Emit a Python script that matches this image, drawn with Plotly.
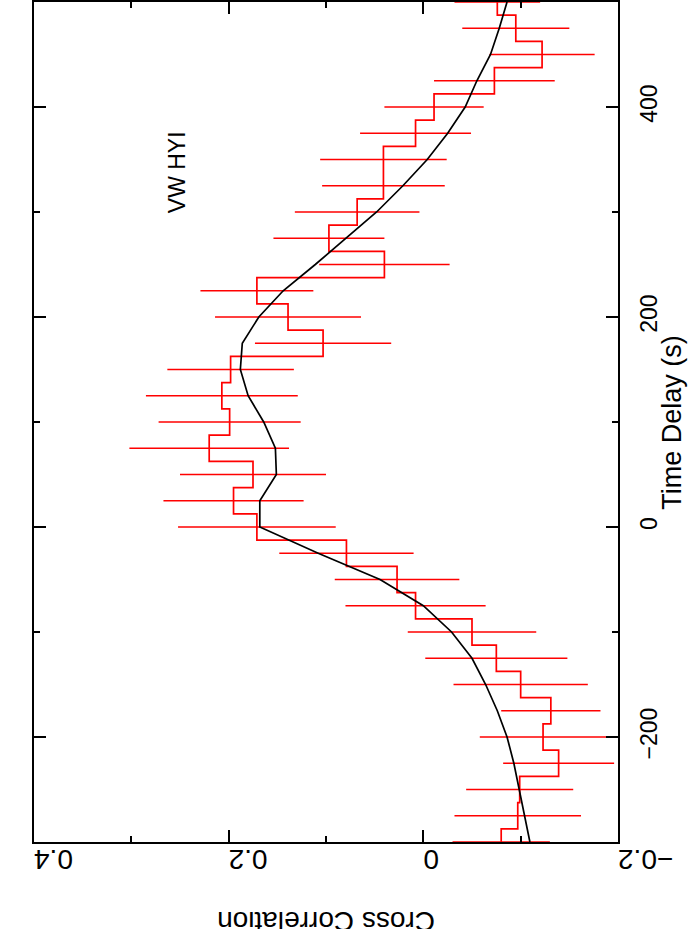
import plotly.graph_objects as go

# Time delay bins (s)
time_delay = [-300, -275, -250, -225, -200, -175, -150, -125, -100, -75, -50, -25,
              0, 25, 50, 75, 100, 125, 150, 175, 200, 225, 250, 275,
              300, 325, 350, 375, 400, 425, 450, 475, 500]

# Measured cross correlation (red histogram) and its errors
cross_corr = [-0.080, -0.097, -0.099, -0.139, -0.123, -0.131, -0.100, -0.075, -0.050, 0.008, 0.027, 0.079,
              0.171, 0.195, 0.175, 0.220, 0.199, 0.207, 0.198, 0.103, 0.139, 0.171, 0.040, 0.097,
              0.068, 0.041, 0.041, 0.008, -0.011, -0.073, -0.122, -0.095, -0.076]
cross_err = [0.050, 0.065, 0.055, 0.057, 0.065, 0.051, 0.069, 0.073, 0.066, 0.072, 0.064, 0.069,
             0.081, 0.072, 0.075, 0.082, 0.073, 0.078, 0.065, 0.070, 0.075, 0.058, 0.067, 0.057,
             0.064, 0.063, 0.065, 0.057, 0.051, 0.062, 0.054, 0.055, 0.044]

# Model curve (black)
model_corr = [-0.1095, -0.104, -0.099, -0.093, -0.086, -0.076, -0.064, -0.050, -0.029, 0.000, 0.0445, 0.108,
              0.168, 0.168, 0.151, 0.152, 0.164, 0.180, 0.188, 0.186, 0.169, 0.144, 0.111, 0.080,
              0.048, 0.021, -0.004, -0.025, -0.043, -0.055, -0.069, -0.078, -0.086]

font_family = "Liberation Sans, Arial, sans-serif"

fig = go.Figure()

# measured CCF as a step histogram with error bars
fig.add_trace(go.Scatter(
    x=cross_corr, y=time_delay, mode='lines',
    line=dict(color='red', width=1.7, shape='vhv'),
    error_x=dict(type='data', array=cross_err, color='red', thickness=1.7, width=0),
    showlegend=False, hoverinfo='skip'
))

# model curve
fig.add_trace(go.Scatter(
    x=model_corr, y=time_delay, mode='lines',
    line=dict(color='black', width=1.7),
    showlegend=False, hoverinfo='skip'
))

fig.update_layout(
    width=689, height=929,
    margin=dict(l=34, r=71, t=2, b=87),
    paper_bgcolor='white', plot_bgcolor='white',
    font=dict(family=font_family, color='black'),
    xaxis=dict(
        range=[0.4, -0.2], dtick=0.2, tick0=0,
        ticks='inside', ticklen=12, tickwidth=1.5, tickcolor='black',
        minor=dict(dtick=0.1, ticks='inside', ticklen=6, tickwidth=1.5, tickcolor='black'),
        showline=True, linewidth=2, linecolor='black', mirror='ticks',
        showgrid=False, zeroline=False, tickangle=180,
        tickfont=dict(size=28), automargin=False
    ),
    yaxis=dict(
        range=[-300, 500], dtick=200, tick0=0, side='right',
        ticks='inside', ticklen=12, tickwidth=1.5, tickcolor='black',
        minor=dict(dtick=100, ticks='inside', ticklen=6, tickwidth=1.5, tickcolor='black'),
        showline=True, linewidth=2, linecolor='black', mirror='ticks',
        showgrid=False, zeroline=False, tickangle=-90,
        tickfont=dict(size=23), ticklabelstandoff=9, automargin=False
    ),
)

# axis titles and source label (text rotated as in the original figure)
fig.add_annotation(text="Cross Correlation", xref='paper', yref='paper', x=0.5, y=-0.094,
                   textangle=180, showarrow=False, font=dict(size=28),
                   xanchor='center', yanchor='middle')
fig.add_annotation(text="Time Delay (s)", xref='paper', yref='paper', x=1.092, y=0.5,
                   textangle=-90, showarrow=False, font=dict(size=27),
                   xanchor='center', yanchor='middle')
fig.add_annotation(text="VW HYI", x=0.253, y=338, xref='x', yref='y',
                   textangle=-90, showarrow=False, font=dict(size=23),
                   xanchor='center', yanchor='middle')

# page without the default body margin so the figure sits at the window corner
fig.write_html("out.html", config={'displayModeBar': False},
               post_script="document.body.style.margin='0';")
